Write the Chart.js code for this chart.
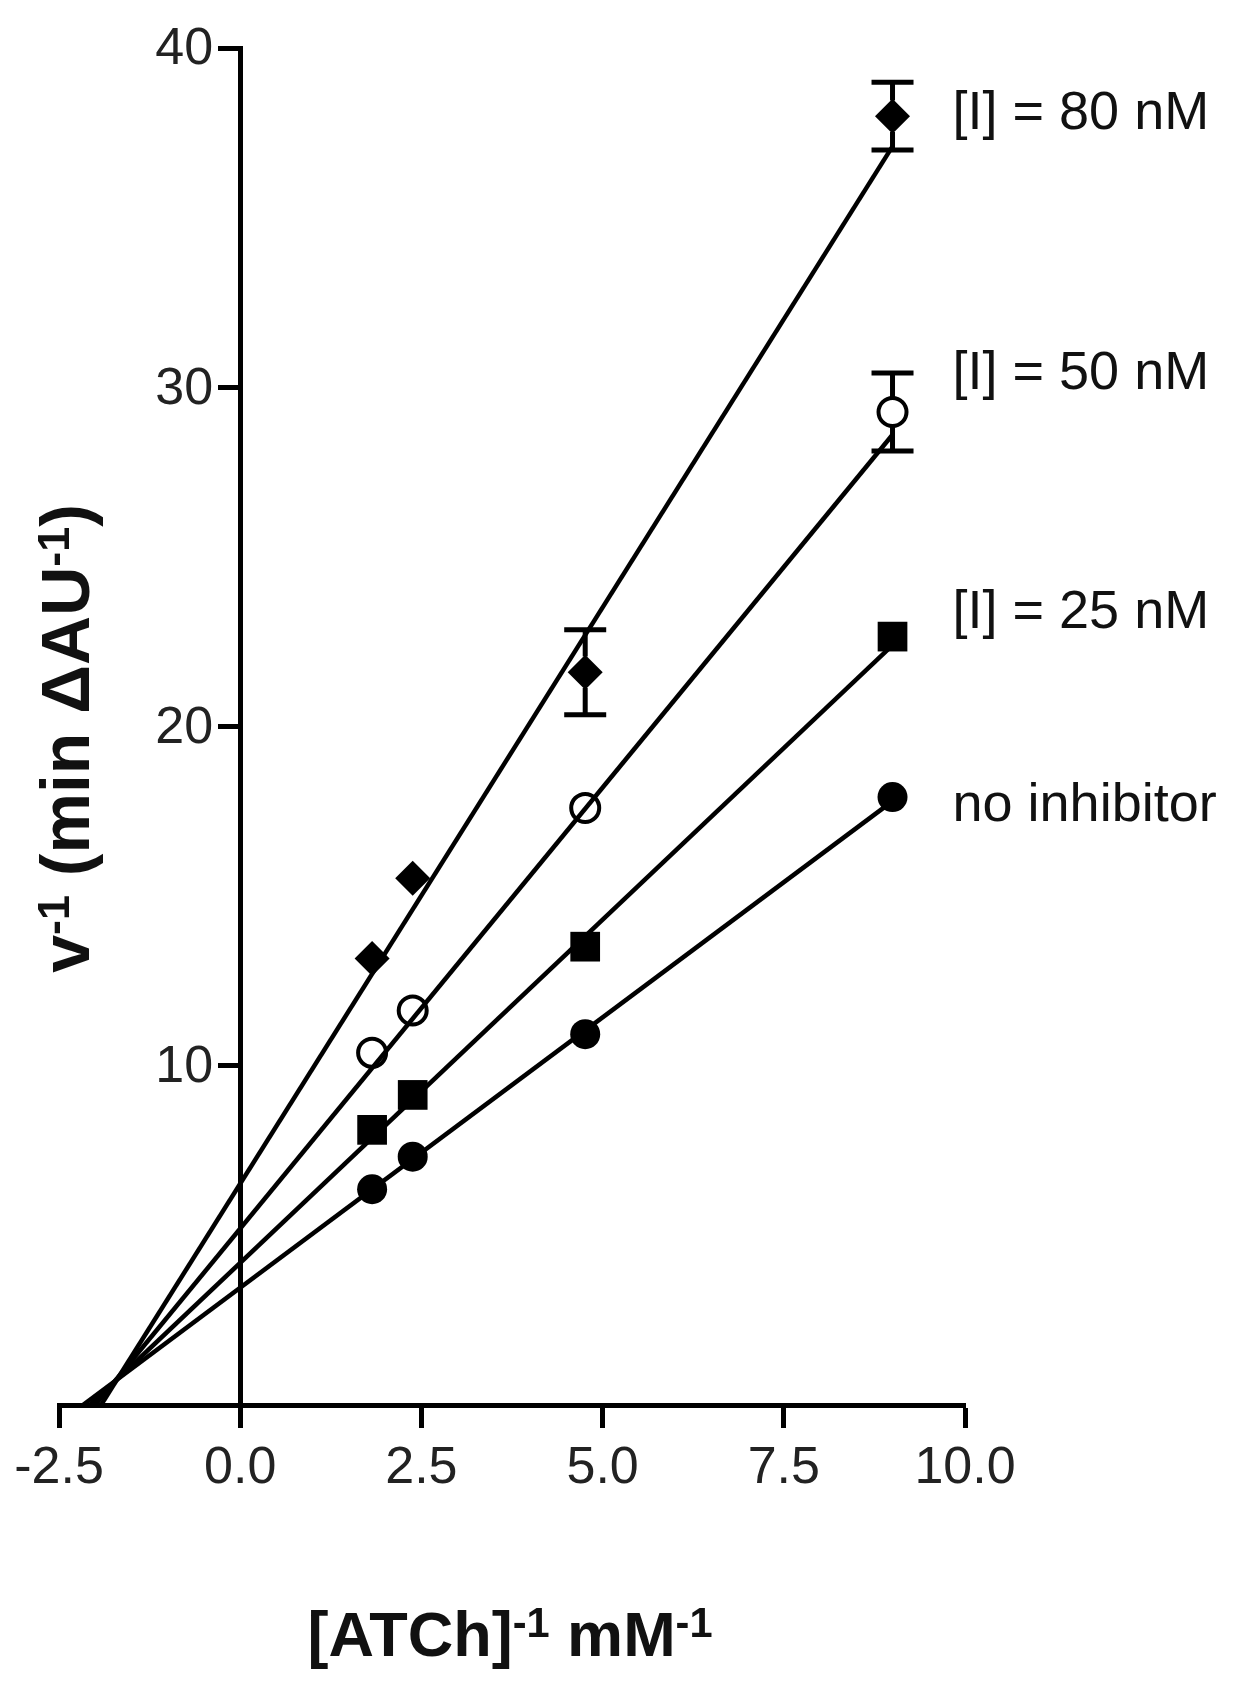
<!DOCTYPE html>
<html>
<head>
<meta charset="utf-8">
<script src="https://cdn.jsdelivr.net/npm/chart.js@4.4.1/dist/chart.umd.min.js"></script>
<style>
html, body { margin: 0; padding: 0; background: #fff; }
#wrap { width: 1233px; height: 1700px; }
</style>
</head>
<body>
<div id="wrap"><canvas id="chart1"></canvas></div>
<script>
// reciprocal substrate concentration (x) and reciprocal rates (y) per inhibitor level
const substrateInv = [1.82, 2.38, 4.76, 9.0];
const noInhibitor = [6.36, 7.32, 10.93, 17.92];
const inh25 = [8.11, 9.14, 13.51, 22.65];
const inh50 = [10.38, 11.63, 17.6, 29.27];
const inh80 = [13.16, 15.53, 21.6, 37.99];
const err50 = [0, 0, 0, 1.15];
const err80 = [0, 0, 1.25, 1.0];
// fitted lines: where each meets the x axis and its value at the last x
const fitStartX = [-2.17, -2.07, -2.0, -1.92];
const fitEndX = 9.0;
const fitEndY = [17.8, 22.4, 28.6, 37.1];
const seriesLabels = ['no inhibitor', '[I] = 25 nM', '[I] = 50 nM', '[I] = 80 nM'];
const xTicks = [-2.5, 0, 2.5, 5, 7.5, 10];
const yTicks = [0, 10, 20, 30, 40];

const FONT = "'Liberation Sans', Arial, sans-serif";
const pts = (ys) => substrateInv.map((x, i) => ({x: x, y: ys[i]}));
const series = [noInhibitor, inh25, inh50, inh80];
const errs = [null, null, err50, err80];
const styles = [
    {pointStyle: 'circle', radius: 15, fill: '#000', bw: 0},
    {pointStyle: 'rect', radius: 21, fill: '#000', bw: 0},
    {pointStyle: 'circle', radius: 14, fill: 'rgba(0,0,0,0)', bw: 4},
    {pointStyle: 'rectRot', radius: 17.5, fill: '#000', bw: 0}
];

const datasets = [];
series.forEach((ys, i) => {
    datasets.push({
        type: 'line',
        label: seriesLabels[i] + ' fit',
        data: [{x: fitStartX[i], y: 0}, {x: fitEndX, y: fitEndY[i]}],
        borderColor: '#000',
        borderWidth: 4.5,
        pointRadius: 0,
        fill: false
    });
});
series.forEach((ys, i) => {
    datasets.push({
        type: 'scatter',
        label: seriesLabels[i],
        data: pts(ys),
        errors: errs[i],
        pointStyle: styles[i].pointStyle,
        pointRadius: styles[i].radius,
        pointHoverRadius: styles[i].radius,
        backgroundColor: styles[i].fill,
        borderColor: '#000',
        borderWidth: styles[i].bw,
        showLine: false
    });
});

// error bars drawn outside the symbol, with caps
const errorBars = {
    id: 'errorBars',
    afterDatasetsDraw(chart) {
        const ctx = chart.ctx;
        const xs = chart.scales.x, ys = chart.scales.y;
        ctx.save();
        ctx.strokeStyle = '#000';
        ctx.lineWidth = 5;
        chart.data.datasets.forEach((ds) => {
            if (!ds.errors) return;
            ds.data.forEach((p, i) => {
                const e = ds.errors[i];
                if (!e) return;
                const px = xs.getPixelForValue(p.x);
                const yc = ys.getPixelForValue(p.y);
                const yt = ys.getPixelForValue(p.y + e);
                const yb = ys.getPixelForValue(p.y - e);
                const r = ds.pointRadius * 0.9;
                const cap = 21;
                ctx.beginPath();
                ctx.moveTo(px, yc - r); ctx.lineTo(px, yt);
                ctx.moveTo(px, yc + r); ctx.lineTo(px, yb);
                ctx.moveTo(px - cap, yt); ctx.lineTo(px + cap, yt);
                ctx.moveTo(px - cap, yb); ctx.lineTo(px + cap, yb);
                ctx.stroke();
            });
        });
        ctx.restore();
    }
};

function drawRich(ctx, parts, size) {
    const sup = size * 0.66;
    let w = 0;
    parts.forEach(p => {
        ctx.font = 'bold ' + (p.sup ? sup : size) + 'px ' + FONT;
        p.w = ctx.measureText(p.t).width;
        w += p.w;
    });
    let x = -w / 2;
    parts.forEach(p => {
        ctx.font = 'bold ' + (p.sup ? sup : size) + 'px ' + FONT;
        ctx.fillText(p.t, x, p.sup ? -size * 0.3 : 0);
        x += p.w;
    });
}

// y tick labels, axis titles with superscripts, series labels at the right
const annotations = {
    id: 'annotations',
    afterDraw(chart) {
        const ctx = chart.ctx;
        const area = chart.chartArea;
        const xs = chart.scales.x, ys = chart.scales.y;
        ctx.save();
        ctx.fillStyle = '#222';

        ctx.font = '52px ' + FONT;
        ctx.textAlign = 'right';
        ctx.textBaseline = 'middle';
        const axisX = xs.getPixelForValue(0);
        yTicks.forEach(v => {
            if (v === 0) return;
            ctx.fillText(String(v), axisX - 27, ys.getPixelForValue(v) + 2);
        });

        ctx.fillStyle = '#111';
        ctx.textBaseline = 'alphabetic';
        ctx.textAlign = 'left';

        ctx.save();
        ctx.translate((area.left + area.right) / 2 - 2, 1656);
        drawRich(ctx, [{t: '[ATCh]'}, {t: '-1', sup: true}, {t: ' mM'}, {t: '-1', sup: true}], 63);
        ctx.restore();

        ctx.save();
        ctx.translate(89, (area.top + area.bottom) / 2 + 12);
        ctx.rotate(-Math.PI / 2);
        drawRich(ctx, [{t: 'v'}, {t: '-1', sup: true}, {t: ' (min \u0394AU'}, {t: '-1', sup: true}, {t: ')'}], 68);
        ctx.restore();

        const offsets = [9, -23, -38, -2];
        ctx.font = '54px ' + FONT;
        ctx.textBaseline = 'middle';
        series.forEach((ys2, i) => {
            const last = ys2.length - 1;
            const px = xs.getPixelForValue(substrateInv[last]) + 60;
            const py = ys.getPixelForValue(ys2[last]) + offsets[i];
            ctx.fillText(seriesLabels[i], px, py);
        });
        ctx.restore();
    }
};

const ctx1 = document.getElementById('chart1').getContext('2d');
const chart1 = new Chart(ctx1, {
    data: {datasets: datasets},
    options: {
        responsive: true,
        maintainAspectRatio: false,
        animation: false,
        layout: {padding: {left: 59, right: 268, top: 48, bottom: 295}},
        plugins: {legend: {display: false}, tooltip: {enabled: false}},
        scales: {
            x: {
                type: 'linear',
                position: {y: 0},
                min: -2.5,
                max: 10,
                afterBuildTicks: axis => { axis.ticks = xTicks.map(v => ({value: v})); },
                border: {display: true, color: '#000', width: 5},
                grid: {drawOnChartArea: false, drawTicks: true, tickLength: 20, tickWidth: 5, tickColor: '#000'},
                ticks: {
                    color: '#222',
                    font: {family: FONT, size: 52},
                    padding: 12,
                    maxRotation: 0,
                    callback: v => v.toFixed(1)
                }
            },
            y: {
                type: 'linear',
                position: {x: 0},
                min: 0,
                max: 40,
                afterBuildTicks: axis => { axis.ticks = yTicks.map(v => ({value: v})); },
                border: {display: true, color: '#000', width: 5},
                grid: {drawOnChartArea: false, drawTicks: true, tickLength: 20, tickWidth: 5, tickColor: '#000'},
                ticks: {display: false}
            }
        }
    },
    plugins: [errorBars, annotations]
});
</script>
</body>
</html>
